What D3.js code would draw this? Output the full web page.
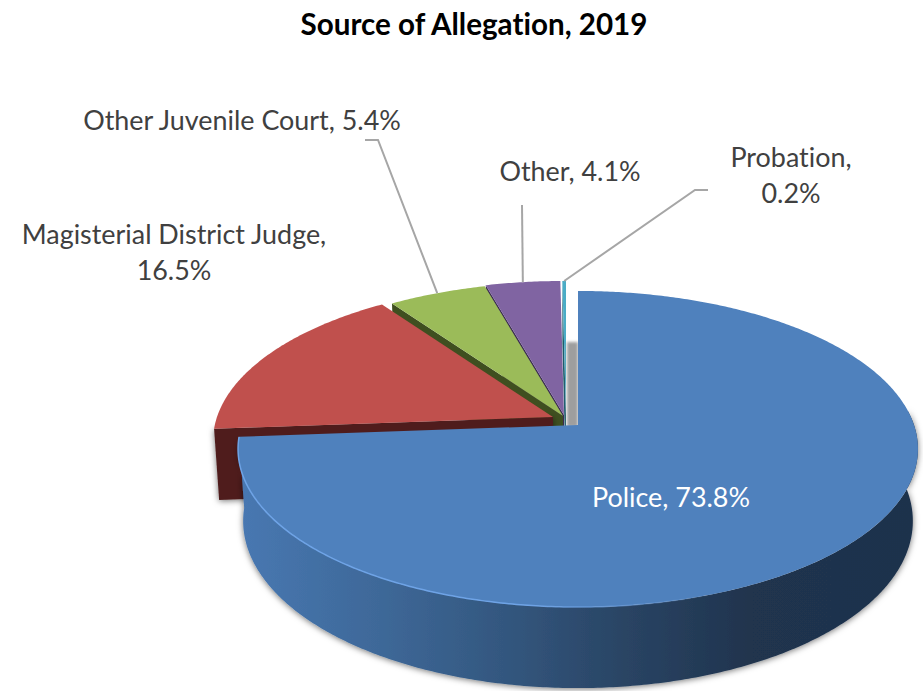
<!DOCTYPE html>
<html>
<head>
    <title>Source of Allegation, 2019</title>
    <meta charset="utf-8">
    <style>
        html, body { margin: 0; padding: 0; background: #fff; }
        svg { display: block; }
        text { font-variant-ligatures: none; }
    </style>
</head>
<body>
<script src="https://d3js.org/d3.v7.min.js"></script>
<script>
    var chartTitle = 'Source of Allegation, 2019';
    var categories = ['Police', 'Magisterial District Judge', 'Other Juvenile Court', 'Other', 'Probation'];
    var shares = [73.8, 16.5, 5.4, 4.1, 0.2];

    var topColors = ['#4f81bd', '#c0504d', '#9bbb59', '#8064a2', '#4bacc6'];
    var wallColors = ['#2f4d73', '#4f1e1e', '#3f4f20', '#3a2b52', '#1f5b6b'];

    var chartW = 923, chartH = 691;

    // how far each slice is pulled away from the police slice, in px
    var shiftX = [0, -25, -15, -14, -12];
    var shiftY = [0, -8, -9, -10, -10];

    // perspective of the pie plate, fitted to the picture
    var view = { cx: 578, cy: 425, a: 89.8, c: -0.152, r: 336, wallX: 0.985, wallY: 1.057, wallD: 46.4 };

    var labelSize = 26.9;
    var labels = [
        { i: 0, x: 671, y: 507, anchor: 'middle', fill: '#fff', lines: ['Police, 73.8%'] },
        { i: 1, x: 174, y: 244, anchor: 'middle', fill: '#404040', lines: ['Magisterial District Judge,', '16.5%'] },
        { i: 2, x: 242, y: 130, anchor: 'middle', fill: '#404040', lines: ['Other Juvenile Court, 5.4%'] },
        { i: 3, x: 570, y: 181, anchor: 'middle', fill: '#404040', lines: ['Other, 4.1%'] },
        { i: 4, x: 791, y: 167, anchor: 'middle', fill: '#404040', lines: ['Probation,', '0.2%'] }
    ];
    // elbow points of the leader lines
    var leaders = [
        { i: 2, elbow: [[378, 140], [365, 140]] },
        { i: 3, elbow: [[522, 205]] },
        { i: 4, elbow: [[695, 190], [708, 190]] }
    ];

    var svg = d3.select('body').append('svg')
        .attr('width', chartW)
        .attr('height', chartH);

    var defs = svg.append('defs');

    var grad = defs.append('linearGradient')
        .attr('id', 'wallGrad')
        .attr('gradientUnits', 'userSpaceOnUse')
        .attr('x1', 238).attr('x2', 918).attr('y1', 0).attr('y2', 0);
    [[0, '#4878b2'], [0.21, '#3e6898'], [0.39, '#33577f'], [0.56, '#2a4565'], [0.75, '#20344e'], [1, '#1e324c']]
        .forEach(function (s) {
            grad.append('stop').attr('offset', s[0]).attr('stop-color', s[1]);
        });

    var rimGrad = defs.append('linearGradient')
        .attr('id', 'rimGrad')
        .attr('gradientUnits', 'userSpaceOnUse')
        .attr('x1', 238).attr('x2', 720).attr('y1', 0).attr('y2', 0);
    rimGrad.append('stop').attr('offset', 0).attr('stop-color', '#6ea3e6');
    rimGrad.append('stop').attr('offset', 0.6).attr('stop-color', '#6ea3e6');
    rimGrad.append('stop').attr('offset', 1).attr('stop-color', '#6ea3e6').attr('stop-opacity', 0);

    var wallShadow = defs.append('filter')
        .attr('id', 'wallShadow')
        .attr('x', '-10%').attr('y', '-10%').attr('width', '120%').attr('height', '120%');
    wallShadow.append('feDropShadow')
        .attr('dx', 0).attr('dy', 1).attr('stdDeviation', 3)
        .attr('flood-color', '#000').attr('flood-opacity', 0.55);

    var soft = defs.append('filter').attr('id', 'soft')
        .attr('x', '-30%').attr('y', '-30%').attr('width', '160%').attr('height', '160%');
    soft.append('feGaussianBlur').attr('stdDeviation', 1.5);

    var pie = d3.pie().sort(null).value(function (d) { return d; });
    var arcs = pie(shares);

    // point of the top face, angle in radians clockwise from 12 o'clock, radius 0..1
    function topPoint(angle, radius) {
        var u = Math.sin(angle) * radius;
        var v = -Math.cos(angle) * radius;
        var w = 1 + view.c * v;
        return [view.cx + view.r * u / w, (view.a * v + view.cy) / w];
    }
    // same point on the lower rim of the wall
    function low(p) {
        return [view.cx + (p[0] - view.cx) * view.wallX, p[1] * view.wallY + view.wallD];
    }
    function moved(p, i) {
        return [p[0] + shiftX[i], p[1] + shiftY[i]];
    }
    function arcPoints(a0, a1) {
        var n = Math.max(2, Math.ceil((a1 - a0) / 0.01));
        return d3.range(n + 1).map(function (k) {
            return topPoint(a0 + (a1 - a0) * k / n, 1);
        });
    }

    var line = d3.line();

    function topFace(d, i) {
        var pts = [topPoint(0, 0)].concat(arcPoints(d.startAngle, d.endAngle));
        return line(pts.map(function (p) { return moved(p, i); })) + 'Z';
    }
    // cut face below the start edge of a slice
    function cutWall(d, i) {
        var a = topPoint(0, 0), b = topPoint(d.startAngle, 1);
        return line([a, b, low(b), low(a)].map(function (p) { return moved(p, i); })) + 'Z';
    }
    // police: curved outer wall along the front
    function frontWall(d) {
        var pts = arcPoints(Math.PI * 0.47, d.endAngle);
        return line(pts.concat(pts.slice().reverse().map(low))) + 'Z';
    }

    // small slices back to front, the big one goes last
    [4, 3, 2, 1].forEach(function (i) {
        svg.append('path')
            .attr('d', cutWall(arcs[i], i))
            .attr('fill', wallColors[i])
            .attr('filter', i === 1 ? 'url(#wallShadow)' : null);
        svg.append('path')
            .attr('d', topFace(arcs[i], i))
            .attr('fill', topColors[i]);
    });

    // grey sliver seen through the gap
    var gapLeft = moved(topPoint(0, 0), 4)[0] + 1;
    svg.append('rect')
        .attr('x', gapLeft)
        .attr('y', 342)
        .attr('width', view.cx - gapLeft)
        .attr('height', view.cy - 342 + 2)
        .attr('fill', '#9e9e9e')
        .attr('filter', 'url(#soft)');

    svg.append('path')
        .attr('d', frontWall(arcs[0]))
        .attr('fill', 'url(#wallGrad)')
        .attr('filter', 'url(#wallShadow)');
    svg.append('path')
        .attr('d', topFace(arcs[0], 0))
        .attr('fill', topColors[0]);
    svg.append('path')
        .attr('d', line(arcPoints(Math.PI * 0.7, arcs[0].endAngle)))
        .attr('fill', 'none')
        .attr('stroke', 'url(#rimGrad)')
        .attr('stroke-width', 1.5);

    leaders.forEach(function (l) {
        var d = arcs[l.i];
        var start = moved(topPoint((d.startAngle + d.endAngle) / 2, 1), l.i);
        svg.append('path')
            .attr('d', line([start].concat(l.elbow)))
            .attr('fill', 'none')
            .attr('stroke', '#a6a6a6')
            .attr('stroke-width', 2);
    });

    svg.append('text')
        .attr('x', 474)
        .attr('y', 35)
        .attr('text-anchor', 'middle')
        .attr('font-family', 'Lato, sans-serif')
        .attr('font-weight', 700)
        .attr('font-size', 29.6)
        .attr('fill', '#000')
        .text(chartTitle);

    labels.forEach(function (l) {
        var t = svg.append('text')
            .attr('text-anchor', l.anchor)
            .attr('font-family', 'Lato, sans-serif')
            .attr('font-size', labelSize)
            .attr('fill', l.fill);
        l.lines.forEach(function (s, k) {
            t.append('tspan')
                .attr('x', l.x)
                .attr('y', l.y + k * 36)
                .text(s);
        });
    });
</script>
</body>
</html>
